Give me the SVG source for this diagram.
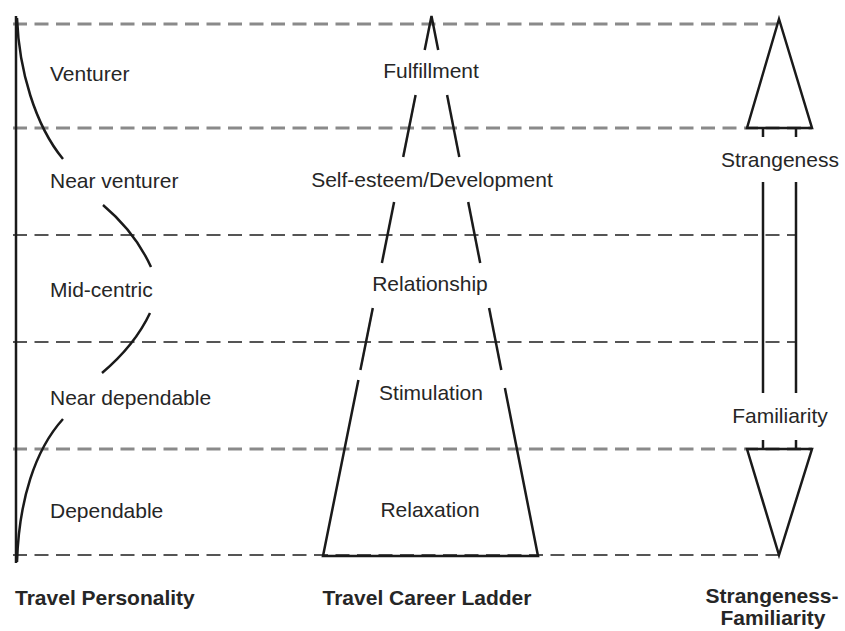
<svg xmlns="http://www.w3.org/2000/svg" width="845" height="631" viewBox="0 0 845 631">
<style>
  .lbl { font-family: "Liberation Sans", Arial, sans-serif; font-size: 21px; fill: #262626; }
  .title { font-family: "Liberation Sans", Arial, sans-serif; font-size: 21px; font-weight: bold; fill: #262626; }
  .c { text-anchor: middle; }
  .dl { fill: none; stroke: #8a8a8a; stroke-width: 3; stroke-dasharray: 14 7.5; }
  .dd { fill: none; stroke: #555; stroke-width: 2; stroke-dasharray: 14 7.5; }
  .ln { fill: none; stroke: #1a1a1a; stroke-width: 2.5; stroke-linecap: butt; stroke-linejoin: miter; }
</style>
<rect x="0" y="0" width="845" height="631" fill="#ffffff"/>

<g id="grid">
  <line class="dl" x1="13" y1="24" x2="778" y2="24"/>
  <line class="dl" x1="13" y1="128" x2="812" y2="128"/>
  <line class="dd" x1="13" y1="235" x2="796" y2="235"/>
  <line class="dd" x1="13" y1="342" x2="796" y2="342"/>
  <line class="dl" x1="13" y1="449" x2="812" y2="449"/>
  <line class="dd" x1="13" y1="555" x2="779" y2="555"/>
</g>

<g id="travel-personality">
  <line class="ln" x1="16" y1="16" x2="16" y2="563"/>
  <path class="ln" d="M17,18 C19,70 35,125 63,159"/>
  <path class="ln" d="M103,205 Q135,232 151,267"/>
  <path class="ln" d="M150,313 Q135,345 102,373"/>
  <path class="ln" d="M63,419 C35,450 19,500 17,562"/>
  <text class="lbl" x="50" y="81">Venturer</text>
  <text class="lbl" x="50" y="188">Near venturer</text>
  <text class="lbl" x="50" y="297">Mid-centric</text>
  <text class="lbl" x="50" y="405">Near dependable</text>
  <text class="lbl" x="50" y="518">Dependable</text>
  <text class="title" x="15" y="605">Travel Personality</text>
</g>

<g id="travel-career-ladder">
  <path class="ln" d="M424.7,50 L431.5,16 L438.2,50"/>
  <line class="ln" x1="415.6" y1="95" x2="403.2" y2="157"/>
  <line class="ln" x1="447.1" y1="95" x2="459.3" y2="157"/>
  <line class="ln" x1="394.1" y1="202" x2="381.9" y2="263"/>
  <line class="ln" x1="468.2" y1="202" x2="480.2" y2="263"/>
  <line class="ln" x1="372.8" y1="308" x2="360.4" y2="370"/>
  <line class="ln" x1="489.1" y1="308" x2="501.3" y2="370"/>
  <path class="ln" d="M358.4,380 L323,556 L538,556 L504.9,388"/>
  <text class="lbl c" x="431" y="78">Fulfillment</text>
  <text class="lbl c" x="432" y="187">Self-esteem/Development</text>
  <text class="lbl c" x="430" y="291">Relationship</text>
  <text class="lbl c" x="431" y="400">Stimulation</text>
  <text class="lbl c" x="430" y="517">Relaxation</text>
  <text class="title c" x="427" y="605">Travel Career Ladder</text>
</g>

<g id="strangeness-familiarity">
  <path class="ln" d="M779,19 L812,128 L747,128 Z"/>
  <line class="ln" x1="763" y1="128" x2="763" y2="137"/>
  <line class="ln" x1="796" y1="128" x2="796" y2="137"/>
  <line class="ln" x1="763" y1="182" x2="763" y2="393"/>
  <line class="ln" x1="796" y1="182" x2="796" y2="393"/>
  <line class="ln" x1="763" y1="440" x2="763" y2="449"/>
  <line class="ln" x1="796" y1="440" x2="796" y2="449"/>
  <path class="ln" d="M747,449 L812,449 L779,555 Z"/>
  <text class="lbl c" x="780" y="167">Strangeness</text>
  <text class="lbl c" x="780" y="423">Familiarity</text>
  <text class="title c" x="772" y="603">Strangeness-</text>
  <text class="title c" x="773" y="625">Familiarity</text>
</g>
</svg>
